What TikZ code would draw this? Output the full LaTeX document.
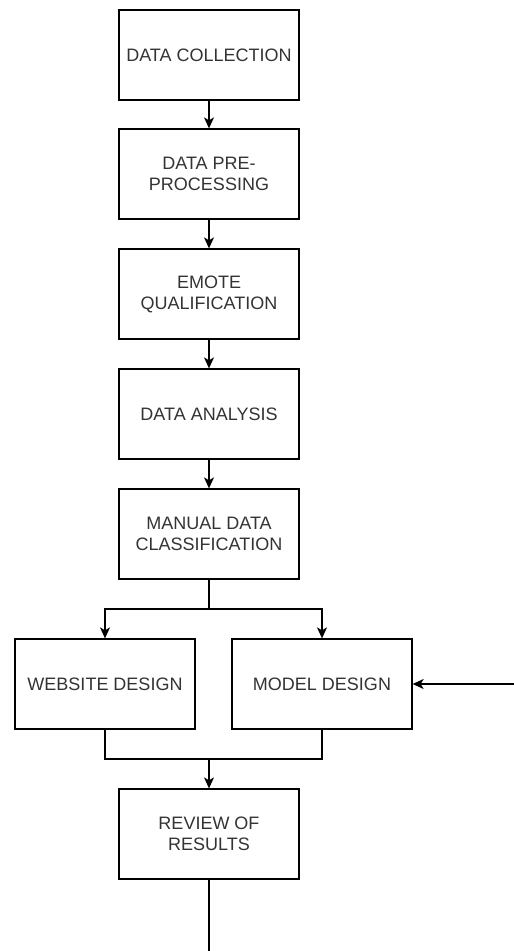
\documentclass[tikz,border=0pt]{standalone}
\usepackage{fontspec}
\setmainfont{Liberation Sans}
\usepackage{xcolor}
\usepackage{tikz}
\usetikzlibrary{arrows.meta}

\definecolor{labelgrey}{HTML}{333333}

\begin{document}
\begin{tikzpicture}[x=1pt, y=-1pt, line width=1.3pt,
    stagebox/.style={draw=black, rectangle, minimum width=180pt, minimum height=90pt,
      align=center, text=labelgrey, font=\fontsize{18}{21}\selectfont, inner sep=2pt},
    flow/.style={-{Stealth[length=11pt, width=10pt, inset=3pt]}}]
    \useasboundingbox (0,0) rectangle (514,951);
    % pipeline steps
    \node[stagebox] (collect) at (209,55) {DATA COLLECTION};
    \node[stagebox] (prep) at (209,174) {DATA PRE-\\PROCESSING};
    \node[stagebox] (emote) at (209,294) {EMOTE\\QUALIFICATION};
    \node[stagebox] (analysis) at (209,414) {DATA ANALYSIS};
    \node[stagebox] (manual) at (209,534) {MANUAL DATA\\CLASSIFICATION};
    % two parallel designs
    \node[stagebox] (website) at (105,684) {WEBSITE DESIGN};
    \node[stagebox] (model) at (322,684) {MODEL DESIGN};
    % final review
    \node[stagebox] (review) at (209,834) {REVIEW OF\\RESULTS};

    % branch and merge points, free ends
    \coordinate (split) at (209,609);
    \coordinate (join) at (209,759);
    \coordinate (extin) at (514,684);
    \coordinate (tail) at (209,951);

    % connections
    \draw[flow] (collect) -- (prep);
    \draw[flow] (prep) -- (emote);
    \draw[flow] (emote) -- (analysis);
    \draw[flow] (analysis) -- (manual);
    \draw (manual) -- (split);
    \draw[flow] (split) -| (website);
    \draw[flow] (split) -| (model);
    \draw[flow] (extin) -- (model);
    \draw (website.south) |- (join) -| (model.south);
    \draw[flow] (join) -- (review);
    \draw (review) -- (tail);
\end{tikzpicture}
\end{document}
